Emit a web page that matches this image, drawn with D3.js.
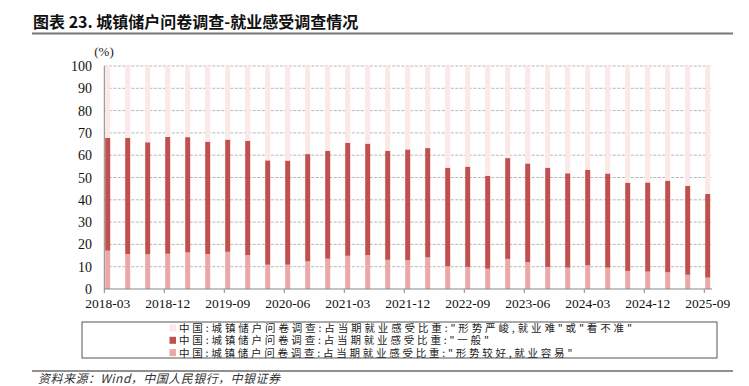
<!DOCTYPE html>
<html>
<head>
<meta charset="utf-8">
<script src="https://cdn.jsdelivr.net/npm/d3@7"></script>
<style>
  body { margin: 0; background: #fff; }
  svg { display: block; }
</style>
</head>
<body>
<div id="chart"></div>
<script>
// quarterly survey, 2018Q1 .. 2025Q3
const quarters = [
  "2018-03","2018-06","2018-09","2018-12","2019-03","2019-06","2019-09","2019-12",
  "2020-03","2020-06","2020-09","2020-12","2021-03","2021-06","2021-09","2021-12",
  "2022-03","2022-06","2022-09","2022-12","2023-03","2023-06","2023-09","2023-12",
  "2024-03","2024-06","2024-09","2024-12","2025-03","2025-06","2025-09"
];
// "形势较好,就业容易"
const good = [17.2,15.7,15.6,15.8,16.4,15.7,16.7,15.2,10.9,10.9,12.4,13.6,14.9,15.2,13.1,12.9,
              14.2,10.2,9.9,9.1,13.5,12.0,9.9,9.6,10.6,9.6,8.1,7.8,7.5,6.4,5.1];
// "一般"
const normal = [50.6,52.1,50.2,52.4,51.7,50.4,50.3,51.3,46.8,46.7,48.1,48.4,50.7,50.0,48.9,49.7,
                49.0,44.2,45.0,41.7,45.2,44.3,44.5,42.3,42.9,42.2,39.6,40.0,41.1,39.9,37.5];
// "形势严峻,就业难"或"看不准"
const hard = good.map((g, i) => +(100 - g - normal[i]).toFixed(1));

const tickLabels = ["2018-03","2018-12","2019-09","2020-06","2021-03","2021-12",
                    "2022-09","2023-06","2024-03","2024-12","2025-09"];
const yTicks = [0,10,20,30,40,50,60,70,80,90,100];

const legendNames = [
  "中国:城镇储户问卷调查:占当期就业感受比重:\"形势严峻,就业难\"或\"看不准\"",
  "中国:城镇储户问卷调查:占当期就业感受比重:\"一般\"",
  "中国:城镇储户问卷调查:占当期就业感受比重:\"形势较好,就业容易\""
];
const colors = ["#fbe8e8", "#c0504d", "#eba8a8"];

const width = 749, height = 386;
const svg = d3.select("#chart").append("svg").attr("width", width).attr("height", height);

// title
svg.append("text")
  .attr("x", 33).attr("y", 28)
  .attr("font-family", "'Noto Sans CJK SC'")
  .attr("font-weight", 700)
  .attr("font-size", 16)
  .attr("fill", "#111")
  .text("图表 23. 城镇储户问卷调查-就业感受调查情况");
svg.append("line")
  .attr("x1", 32).attr("x2", 733).attr("y1", 33.5).attr("y2", 33.5)
  .attr("stroke", "#777").attr("stroke-width", 2);

let plotLeft = 104.3, plotRight = 712;
let y = d3.scaleLinear().domain([0, 100]).range([289, 66]);
let x = d3.scaleLinear().domain([0, quarters.length - 1]).range([107.7, 707.7]);
let barW = 5;

// grid
svg.append("g").selectAll("line").data(yTicks.slice(1)).join("line")
  .attr("x1", plotLeft).attr("x2", plotRight)
  .attr("y1", d => y(d)).attr("y2", d => y(d))
  .attr("stroke", "#a6a6a6").attr("stroke-width", 0.8)
  .attr("stroke-dasharray", "3,1.5");

// stacked bars
const series = [good, normal, hard];
const seriesColors = [colors[2], colors[1], colors[0]];
quarters.forEach((q, i) => {
  let base = 0;
  series.forEach((s, k) => {
    svg.append("rect")
      .attr("x", x(i) - barW / 2)
      .attr("width", barW)
      .attr("y", y(base + s[i]))
      .attr("height", y(base) - y(base + s[i]))
      .attr("fill", seriesColors[k]);
    base += s[i];
  });
});

// y axis
svg.append("line")
  .attr("x1", plotLeft).attr("x2", plotLeft).attr("y1", y(100)).attr("y2", y(0))
  .attr("stroke", "#888").attr("stroke-width", 1);
svg.append("g").selectAll("text").data(yTicks).join("text")
  .attr("x", 92).attr("y", d => y(d) + 5)
  .attr("text-anchor", "end")
  .attr("font-family", "'Liberation Serif'")
  .attr("font-size", 14)
  .attr("fill", "#111")
  .text(d => d);
svg.append("text")
  .attr("x", 104).attr("y", 56)
  .attr("text-anchor", "middle")
  .attr("font-family", "'Liberation Serif'")
  .attr("font-size", 13)
  .attr("fill", "#222")
  .text("(%)");

// x axis
svg.append("line")
  .attr("x1", plotLeft).attr("x2", plotRight).attr("y1", y(0)).attr("y2", y(0))
  .attr("stroke", "#888").attr("stroke-width", 1);
let tickIdx = tickLabels.map(t => quarters.indexOf(t));
svg.append("g").selectAll("line").data(tickIdx).join("line")
  .attr("x1", d => x(d) - 3.4).attr("x2", d => x(d) - 3.4)
  .attr("y1", y(0)).attr("y2", y(0) + 4)
  .attr("stroke", "#888");
svg.append("g").selectAll("text").data(tickIdx).join("text")
  .attr("x", d => x(d)).attr("y", 308)
  .attr("text-anchor", "middle")
  .attr("font-family", "'Liberation Serif'")
  .attr("font-size", 13.5)
  .attr("fill", "#111")
  .text(d => quarters[d]);

// legend
svg.append("rect")
  .attr("x", 82).attr("y", 322).attr("width", 635).attr("height", 36)
  .attr("fill", "none").attr("stroke", "#555").attr("stroke-width", 1);
legendNames.forEach((name, i) => {
  let ly = 328 + i * 12.3;
  svg.append("rect")
    .attr("x", 169.5).attr("y", ly - 3.5).attr("width", 6.5).attr("height", 7)
    .attr("fill", colors[i]);
  svg.append("text")
    .attr("x", 179).attr("y", ly + 4)
    .attr("font-family", "'Noto Sans CJK SC'")
    .attr("font-size", 10.5)
    .attr("fill", "#222")
    .attr("textLength", name.length * 11.92)
    .attr("lengthAdjust", "spacing")
    .text(name);
});

// source
svg.append("line")
  .attr("x1", 32).attr("x2", 733).attr("y1", 371).attr("y2", 371)
  .attr("stroke", "#222").attr("stroke-width", 1.2);
svg.append("text")
  .attr("x", 38).attr("y", 383)
  .attr("font-family", "'Noto Sans CJK SC'")
  .attr("font-style", "italic")
  .attr("font-size", 12)
  .attr("fill", "#333")
  .attr("textLength", 242)
  .attr("lengthAdjust", "spacing")
  .text("资料来源：Wind，中国人民银行，中银证券");
</script>
</body>
</html>
